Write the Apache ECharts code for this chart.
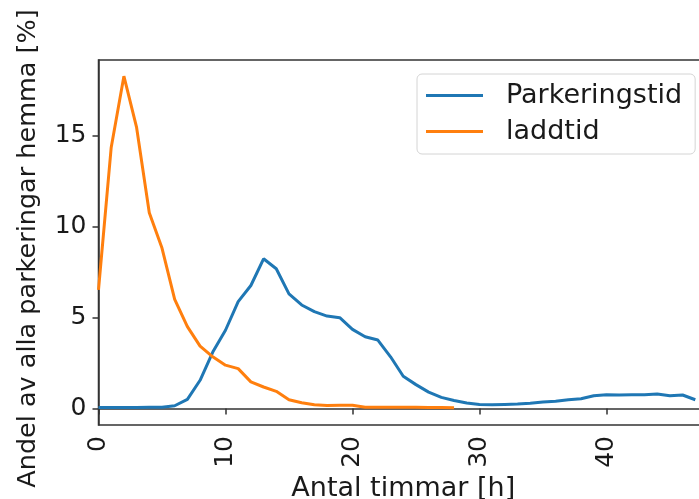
<!DOCTYPE html>
<html>
<head>
<meta charset="utf-8">
<script src="https://cdn.jsdelivr.net/npm/echarts@6/dist/echarts.min.js"></script>
<style>
  html, body { margin: 0; padding: 0; background: #fff; }
  #chart { width: 699px; height: 499px; }
</style>
</head>
<body>
<div id="chart"></div>
<script>
'use strict';

// hours 0..47
var parkeringstid = [
  0.05, 0.05, 0.05, 0.05, 0.06, 0.07, 0.15, 0.5, 1.55, 3.1,
  4.3, 5.87, 6.76, 8.23, 7.68, 6.3, 5.69, 5.32, 5.08, 4.99,
  4.35, 3.94, 3.76, 2.84, 1.77, 1.31, 0.9, 0.61, 0.44, 0.3,
  0.22, 0.2, 0.22, 0.24, 0.29, 0.35, 0.4, 0.48, 0.53, 0.7,
  0.75, 0.74, 0.75, 0.75, 0.79, 0.7, 0.74, 0.48
];
// hours 0..28
var laddtid = [
  6.52, 14.35, 18.27, 15.45, 10.76, 8.82, 6.0, 4.5, 3.43, 2.84,
  2.38, 2.19, 1.46, 1.18, 0.94, 0.48, 0.31, 0.2, 0.16, 0.18,
  0.18, 0.07, 0.07, 0.07, 0.06, 0.06, 0.05, 0.05, 0.04
];
var xTicks = [0, 10, 20, 30, 40];
var yTicks = [0, 5, 10, 15];
var seriesNames = ['Parkeringstid', 'laddtid'];

function toPairs(arr) {
  var out = [];
  for (var i = 0; i < arr.length; i++) {
    out.push([i, arr[i]]);
  }
  return out;
}

var chart = echarts.init(document.getElementById('chart'));
var font = 'DejaVu Sans';
var ink = '#1a1a1a';

chart.setOption({
  animation: false,
  textStyle: { fontFamily: font },
  grid: {
    left: 98.5, top: 60, right: -9, bottom: 74,
    containLabel: false,
    outerBoundsMode: 'none',
    show: true, borderColor: '#333', borderWidth: 1.5
  },
  legend: {
    orient: 'vertical',
    left: 417, top: 74,
    data: seriesNames,
    icon: 'rect',
    itemWidth: 57, itemHeight: 3,
    itemGap: 9,
    padding: [8, 13, 9, 9],
    backgroundColor: '#fff',
    borderColor: '#d4d4d4', borderWidth: 1, borderRadius: 5,
    textStyle: { fontSize: 27, color: ink, padding: [0, 0, 0, 18], fontFamily: font }
  },
  xAxis: {
    type: 'value',
    min: 0, max: 48,
    name: 'Antal timmar [h]',
    nameLocation: 'middle',
    nameGap: 45,
    nameTextStyle: { fontSize: 27, color: ink, fontFamily: font },
    splitLine: { show: false },
    axisLine: { show: true, lineStyle: { color: '#333', width: 1.5 } },
    axisTick: { show: true, length: 6, customValues: xTicks, lineStyle: { color: '#333', width: 1.5 } },
    axisLabel: { customValues: xTicks, rotate: 90, margin: 11, fontSize: 25, color: ink, fontFamily: font }
  },
  yAxis: {
    type: 'value',
    min: -0.91, max: 19.16,
    name: 'Andel av alla parkeringar hemma [%]',
    nameLocation: 'middle',
    nameRotate: 90,
    nameGap: 57,
    nameTextStyle: { fontSize: 25.5, color: ink, fontFamily: font, padding: [0, 12, 0, 0] },
    splitLine: { show: false },
    axisLine: { show: true, onZero: false, lineStyle: { color: '#333', width: 1.5 } },
    axisTick: { show: true, length: 6, customValues: yTicks, lineStyle: { color: '#333', width: 1.5 } },
    axisLabel: { customValues: yTicks, margin: 12, fontSize: 25, color: ink, fontFamily: font }
  },
  series: [{
    name: seriesNames[0],
    type: 'line',
    data: toPairs(parkeringstid),
    showSymbol: false,
    color: '#1f77b4',
    lineStyle: { width: 3, color: '#1f77b4' }
  }, {
    name: seriesNames[1],
    type: 'line',
    data: toPairs(laddtid),
    showSymbol: false,
    color: '#ff7f0e',
    lineStyle: { width: 3, color: '#ff7f0e' }
  }]
});
</script>
</body>
</html>
